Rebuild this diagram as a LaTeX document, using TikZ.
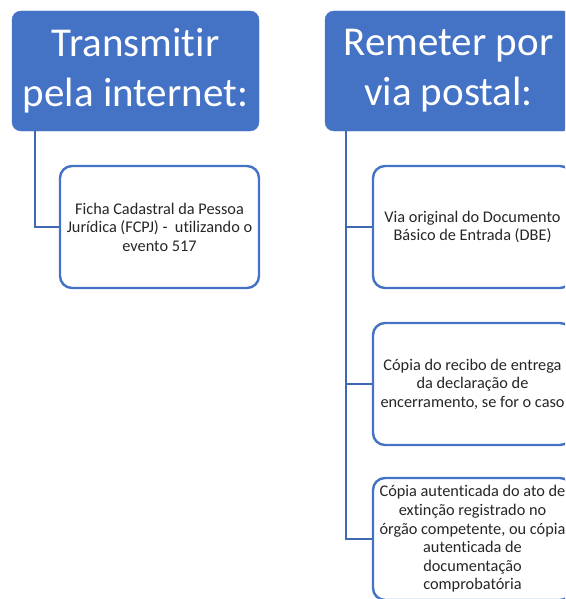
\documentclass[tikz,border=0pt]{standalone}
\usepackage{fontspec}
\setmainfont{Carlito}[Ligatures={NoCommon}]
\usepackage{tikz}
\usetikzlibrary{calc,positioning}

\definecolor{hdblue}{HTML}{4472C4}
\definecolor{lnblue}{HTML}{3E68B4}
\definecolor{txtgray}{HTML}{262626}

\tikzset{
    header/.style={draw=hdblue,fill=hdblue,rounded corners=9pt,minimum width=247pt,
        minimum height=120pt,text=white,align=center,inner sep=0pt,
        font=\fontsize{41}{50}\selectfont},
    itembox/.style={draw=hdblue,line width=2.4pt,fill=white,rounded corners=12pt,
        minimum width=199pt,minimum height=122pt,text=txtgray,align=center,inner sep=0pt,
        font=\fontsize{16.3}{18.6}\selectfont},
    branch/.style={draw=lnblue,line width=2pt}
}

\begin{document}
\begin{tikzpicture}[x=1pt,y=-1pt]
        \useasboundingbox (0,0) rectangle (565,599);
        \clip (0,0) rectangle (565,599);
        % headers
        \node[header] (h1) at (135.5,71) {Transmitir\\pela internet:};
        \node[header] (h2) at (448.5,71) {Remeter por\\via postal:};
        % left column
        \node[itembox] (b1) at (159.5,227) {Ficha Cadastral da Pessoa\\Jurídica (FCPJ) -\ \ utilizando o\\evento 517};
        \coordinate (s1) at ([xshift=23pt]h1.south west);
        \draw[branch] (s1) |- (b1.west);
        % right column
        \node[itembox] (ba) at (472.5,227) {Via original do Documento\\Básico de Entrada (DBE)};
        \node[itembox] (bb) at (472.5,384) {Cópia do recibo de entrega\\da declaração de\\encerramento, se for o caso};
        \node[itembox] (bc) at (472.5,539) {Cópia autenticada do ato de\\extinção registrado no\\órgão competente, ou cópia\\autenticada de\\documentação\\comprobatória};
        \coordinate (s2) at ([xshift=21pt]h2.south west);
        \foreach \b in {ba,bb,bc}
        \draw[branch] (s2) |- (\b.west);
    \end{tikzpicture}
\end{document}
